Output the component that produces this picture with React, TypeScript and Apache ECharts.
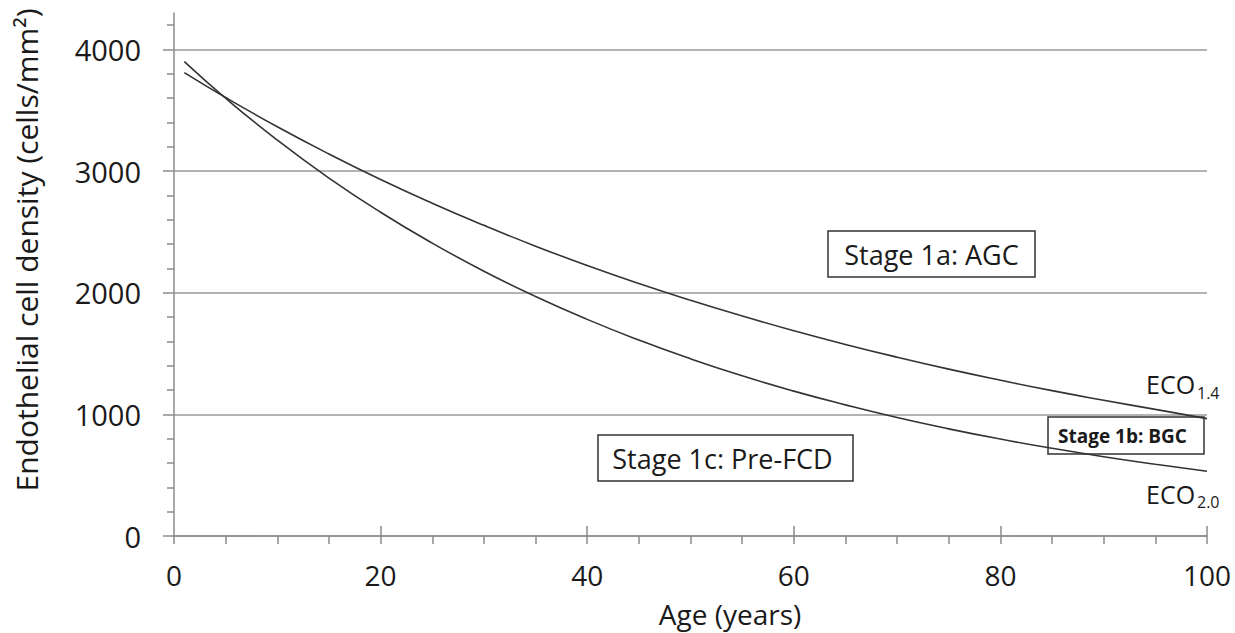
import React, { useEffect, useRef } from "react";
import * as echarts from "echarts";

const ages = [1, 5, 10, 15, 20, 25, 30, 35, 40, 45, 50, 55, 60, 65, 70, 75, 80, 85, 90, 95, 100];
const eco14 = [3810, 3605, 3365, 3141, 2931, 2736, 2554, 2383, 2224, 2076, 1938, 1809, 1688, 1575, 1470, 1372, 1281, 1195, 1116, 1041, 965];
const eco20 = [3900, 3599, 3255, 2943, 2662, 2408, 2177, 1969, 1781, 1611, 1457, 1317, 1191, 1078, 974, 881, 797, 721, 652, 590, 533];

const yMajor = [0, 1000, 2000, 3000, 4000];
const yMinor = [200, 400, 600, 800, 1200, 1400, 1600, 1800, 2200, 2400, 2600, 2800, 3200, 3400, 3600, 3800, 4200];
const xMinorTicks = [0, 5, 10, 15, 20, 25, 30, 35, 40, 45, 50, 55, 60, 65, 70, 75, 80, 85, 90, 95, 100];
const xMajor = [0, 20, 40, 60, 80, 100];

const FONT = "Open Sans";
const TXT = "#1a1a1a";
const AX = "#8c8c8c";

export default function App() {
  const ref = useRef<HTMLDivElement>(null);
  useEffect(() => {
    if (!ref.current) return;
    const chart = echarts.init(ref.current, null, { renderer: "svg" });
    const lineStyle = { color: "#333", width: 1.6 };
    chart.setOption({
      animation: false,
      backgroundColor: "#fff",
      grid: { left: 174, right: 28, top: 13, bottom: 97 },
      xAxis: [
        {
          type: "value",
          min: 0,
          max: 100,
          interval: 5,
          axisLine: { show: true, onZero: false, lineStyle: { color: AX, width: 1.5 } },
          axisTick: { show: true, length: 8, customValues: xMinorTicks, lineStyle: { color: AX, width: 1.5 } },
          axisLabel: {
            customValues: xMajor,
            formatter: (v: number) => String(v),
            margin: 25,
            fontSize: 28,
            fontFamily: FONT,
            color: TXT,
          },
          splitLine: { show: false },
        },
        {
          type: "value",
          min: 0,
          max: 100,
          position: "bottom",
          axisLine: { show: false, onZero: false },
          axisTick: { show: true, inside: true, length: 10, customValues: [20, 40, 60, 80, 100], lineStyle: { color: AX, width: 1.5 } },
          axisLabel: { show: false },
          splitLine: { show: false },
        },
      ],
      yAxis: [
        {
          type: "value",
          min: 0,
          max: 4300,
          position: "left",
          offset: 0,
          axisLine: { show: true, onZero: false, lineStyle: { color: AX, width: 1.5 } },
          axisTick: { show: true, length: 11, customValues: yMajor, lineStyle: { color: AX, width: 1.5 } },
          axisLabel: {
            customValues: yMajor,
            formatter: (v: number) => String(v),
            margin: 33,
            fontSize: 29,
            fontFamily: FONT,
            color: TXT,
          },
          splitLine: { show: true, lineStyle: { color: "#9a9a9a", width: 1.5 } },
        },
        {
          type: "value",
          min: 0,
          max: 4300,
          position: "left",
          offset: 0,
          axisLine: { show: false, onZero: false },
          axisTick: { show: true, length: 7, customValues: yMinor, lineStyle: { color: AX, width: 1.5 } },
          axisLabel: { show: false },
          splitLine: { show: false },
        },
      ],
      series: [
        {
          name: "ECO1.4",
          type: "line",
          xAxisIndex: 0,
          yAxisIndex: 0,
          data: ages.map((a, i) => [a, eco14[i]]),
          smooth: true,
          showSymbol: false,
          lineStyle,
          z: 5,
        },
        {
          name: "ECO2.0",
          type: "line",
          xAxisIndex: 0,
          yAxisIndex: 0,
          data: ages.map((a, i) => [a, eco20[i]]),
          smooth: true,
          showSymbol: false,
          lineStyle,
          z: 5,
        },
      ],
      graphic: [
        {
          type: "text",
          x: 26,
          y: 250,
          rotation: Math.PI / 2,
          style: {
            text: "Endothelial cell density (cells/mm²)",
            font: `30px "${FONT}"`,
            fill: TXT,
            align: "center",
            verticalAlign: "middle",
          },
        },
        {
          type: "text",
          x: 730,
          y: 614,
          style: {
            text: "Age (years)",
            font: `28px "${FONT}"`,
            fill: TXT,
            align: "center",
            verticalAlign: "middle",
          },
        },
        {
          type: "rect",
          shape: { x: 828, y: 231, width: 207, height: 46 },
          style: { fill: "none", stroke: "#333", lineWidth: 1.5 },
        },
        {
          type: "text",
          x: 931.5,
          y: 254,
          style: { text: "Stage 1a: AGC", font: `27px "${FONT}"`, fill: TXT, align: "center", verticalAlign: "middle" },
        },
        {
          type: "rect",
          shape: { x: 598, y: 435, width: 255, height: 46 },
          style: { fill: "none", stroke: "#333", lineWidth: 1.5 },
        },
        {
          type: "text",
          x: 722.5,
          y: 458,
          style: { text: "Stage 1c: Pre-FCD", font: `27px "${FONT}"`, fill: TXT, align: "center", verticalAlign: "middle" },
        },
        {
          type: "rect",
          shape: { x: 1048, y: 417, width: 156, height: 37 },
          style: { fill: "none", stroke: "#333", lineWidth: 1.5 },
        },
        {
          type: "text",
          x: 1122.5,
          y: 435.5,
          style: { text: "Stage 1b: BGC", font: `bold 19px "${FONT}"`, fill: TXT, align: "center", verticalAlign: "middle" },
        },
        {
          type: "text",
          x: 1146,
          y: 384,
          style: { text: "ECO", font: `25px "${FONT}"`, fill: TXT, align: "left", verticalAlign: "middle" },
        },
        {
          type: "text",
          x: 1197,
          y: 393,
          style: { text: "1.4", font: `16px "${FONT}"`, fill: TXT, align: "left", verticalAlign: "middle" },
        },
        {
          type: "text",
          x: 1146,
          y: 493.5,
          style: { text: "ECO", font: `25px "${FONT}"`, fill: TXT, align: "left", verticalAlign: "middle" },
        },
        {
          type: "text",
          x: 1197,
          y: 502,
          style: { text: "2.0", font: `16px "${FONT}"`, fill: TXT, align: "left", verticalAlign: "middle" },
        },
      ],
    });
    return () => chart.dispose();
  }, []);
  return <div ref={ref} style={{ position: "fixed", left: 0, top: 0, width: 1235, height: 633 }} />;
}
